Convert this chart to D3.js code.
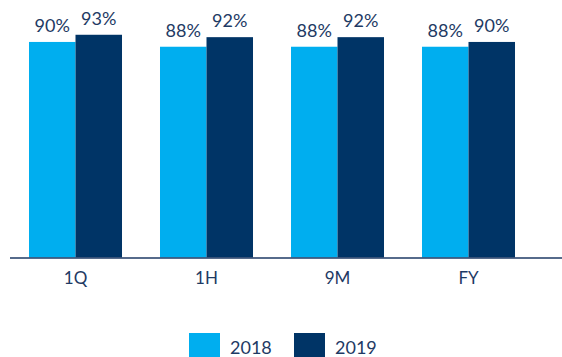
<!DOCTYPE html>
<html>
<head>
<meta charset="utf-8">
<script src="https://cdn.jsdelivr.net/npm/d3@7"></script>
<style>
  html, body { margin: 0; padding: 0; background: #fff; }
  svg { display: block; }
  text { font-family: Lato, "Open Sans", sans-serif; fill: #1E3A64; }
</style>
</head>
<body>
<svg id="chart" width="562" height="357"></svg>
<script>
// Periods along the x axis
const categories = ["1Q", "1H", "9M", "FY"];
// Series, one per year
const seriesNames = ["2018", "2019"];
const values2018 = [90, 88, 88, 88];
const values2019 = [93, 92, 92, 90];
const seriesColors = ["#00AEEF", "#003466"];

const svg = d3.select("#chart");
const W = 562, H = 357;

const x = d3.scaleBand().domain(categories).range([10, 534]).paddingInner(0.29).paddingOuter(0.145);
const xs = d3.scaleBand().domain(seriesNames).range([0, x.bandwidth()]);
const y = d3.scaleLinear().domain([0, 100]).range([257.5, 18]);

const rows = categories.map((c, i) => ({ cat: c, vals: [values2018[i], values2019[i]] }));

const groups = svg.append("g").selectAll("g").data(rows).join("g")
  .attr("transform", d => `translate(${x(d.cat)},0)`);

groups.selectAll("rect").data(d => d.vals.map((v, j) => ({ v, s: seriesNames[j], j })))
  .join("rect")
  .attr("x", d => xs(d.s))
  .attr("width", xs.bandwidth())
  .attr("y", d => y(d.v))
  .attr("height", d => y(0) - y(d.v))
  .attr("fill", d => seriesColors[d.j]);

groups.selectAll("text.val").data(d => d.vals.map((v, j) => ({ v, s: seriesNames[j] })))
  .join("text")
  .attr("class", "val")
  .attr("x", d => xs(d.s) + xs.bandwidth() / 2)
  .attr("y", d => y(d.v) - 10)
  .attr("text-anchor", "middle")
  .style("font-size", "18px")
  .text(d => d.v + "%");

// Baseline
svg.append("line")
  .attr("x1", 10).attr("x2", W)
  .attr("y1", y(0) + 0.5).attr("y2", y(0) + 0.5)
  .attr("stroke", "#1E3A64").attr("stroke-width", 1.3);

// Category labels
const xAxis = d3.axisBottom(x).tickSize(0).tickPadding(0);
const ax = svg.append("g").attr("transform", `translate(0,${y(0)})`).call(xAxis);
ax.select(".domain").remove();
ax.selectAll("text")
  .attr("dy", null)
  .attr("y", 26.5)
  .style("font-size", "17px")
  .style("font-family", "Lato, 'Open Sans', sans-serif")
  .style("fill", "#1E3A64");

// Legend
const legend = svg.append("g");
const legendX = [189, 294];
seriesNames.forEach((name, i) => {
  legend.append("rect")
    .attr("x", legendX[i]).attr("y", 333)
    .attr("width", 31).attr("height", 24)
    .attr("fill", seriesColors[i]);
  legend.append("text")
    .attr("x", legendX[i] + 41).attr("y", 354)
    .style("font-size", "18px")
    .text(name);
});
</script>
</body>
</html>
